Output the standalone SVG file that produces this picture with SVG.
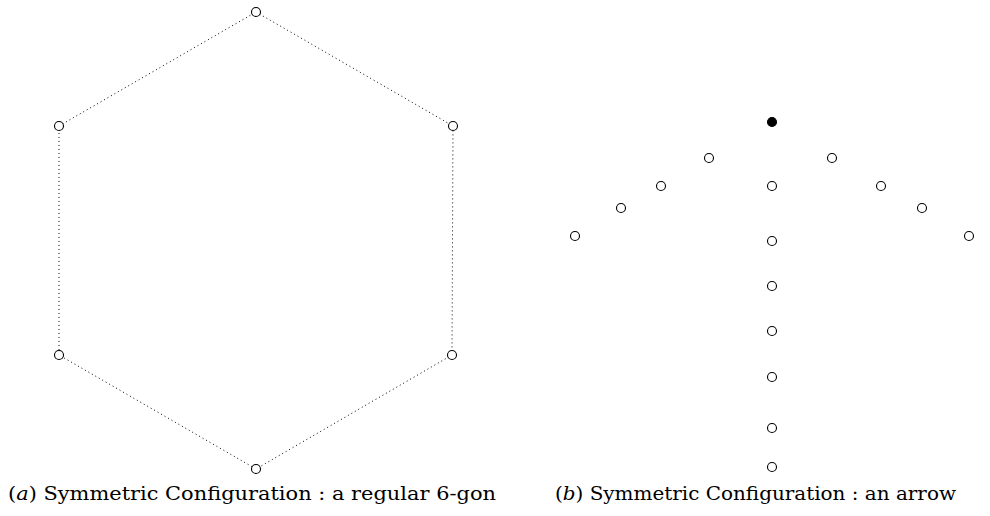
<svg xmlns="http://www.w3.org/2000/svg" width="990" height="516" viewBox="0 0 990 516">
<style>
.e{stroke:#000;stroke-width:1;stroke-dasharray:1 3;fill:none}
.o{fill:#fff;stroke:#000;stroke-width:1.1}
.f{fill:#000;stroke:#000;stroke-width:1.1}
.t{font-family:'DejaVu Serif','Liberation Serif',serif;font-size:19px;fill:#000}
</style>
<rect width="990" height="516" fill="#fff"/>
<g id="connectors">
<path class="e" d="M256,12 L453,126 L452,355 L256,469 L59,355 L59,126 Z"/>
</g>
<g id="hexagon">
<g id="h1"><circle class="o" cx="256" cy="12" r="4.5"/></g>
<g id="h2"><circle class="o" cx="453" cy="126" r="4.5"/></g>
<g id="h3"><circle class="o" cx="452" cy="355" r="4.5"/></g>
<g id="h4"><circle class="o" cx="256" cy="469" r="4.5"/></g>
<g id="h5"><circle class="o" cx="59" cy="355" r="4.5"/></g>
<g id="h6"><circle class="o" cx="59" cy="126" r="4.5"/></g>
</g>
<g id="arrow">
<g id="a0"><circle class="f" cx="772" cy="122" r="4.5"/></g>
<g id="a1"><circle class="o" cx="709" cy="158" r="4.5"/></g>
<g id="a2"><circle class="o" cx="832" cy="158" r="4.5"/></g>
<g id="a3"><circle class="o" cx="661" cy="186" r="4.5"/></g>
<g id="a4"><circle class="o" cx="772" cy="186" r="4.5"/></g>
<g id="a5"><circle class="o" cx="881" cy="186" r="4.5"/></g>
<g id="a6"><circle class="o" cx="621" cy="208" r="4.5"/></g>
<g id="a7"><circle class="o" cx="922" cy="208" r="4.5"/></g>
<g id="a8"><circle class="o" cx="575" cy="236" r="4.5"/></g>
<g id="a9"><circle class="o" cx="969" cy="236" r="4.5"/></g>
<g id="a10"><circle class="o" cx="772" cy="241" r="4.5"/></g>
<g id="a11"><circle class="o" cx="772" cy="286" r="4.5"/></g>
<g id="a12"><circle class="o" cx="772" cy="331" r="4.5"/></g>
<g id="a13"><circle class="o" cx="772" cy="377" r="4.5"/></g>
<g id="a14"><circle class="o" cx="772" cy="428" r="4.5"/></g>
<g id="a15"><circle class="o" cx="772" cy="467" r="4.5"/></g>
</g>
<g id="captions">
<text class="t" x="8" y="500" textLength="488" lengthAdjust="spacingAndGlyphs">(<tspan font-style="italic">a</tspan>) Symmetric Configuration : a regular 6-gon</text>
<text class="t" x="555" y="500" textLength="401" lengthAdjust="spacingAndGlyphs">(<tspan font-style="italic">b</tspan>) Symmetric Configuration : an arrow</text>
</g>
</svg>
